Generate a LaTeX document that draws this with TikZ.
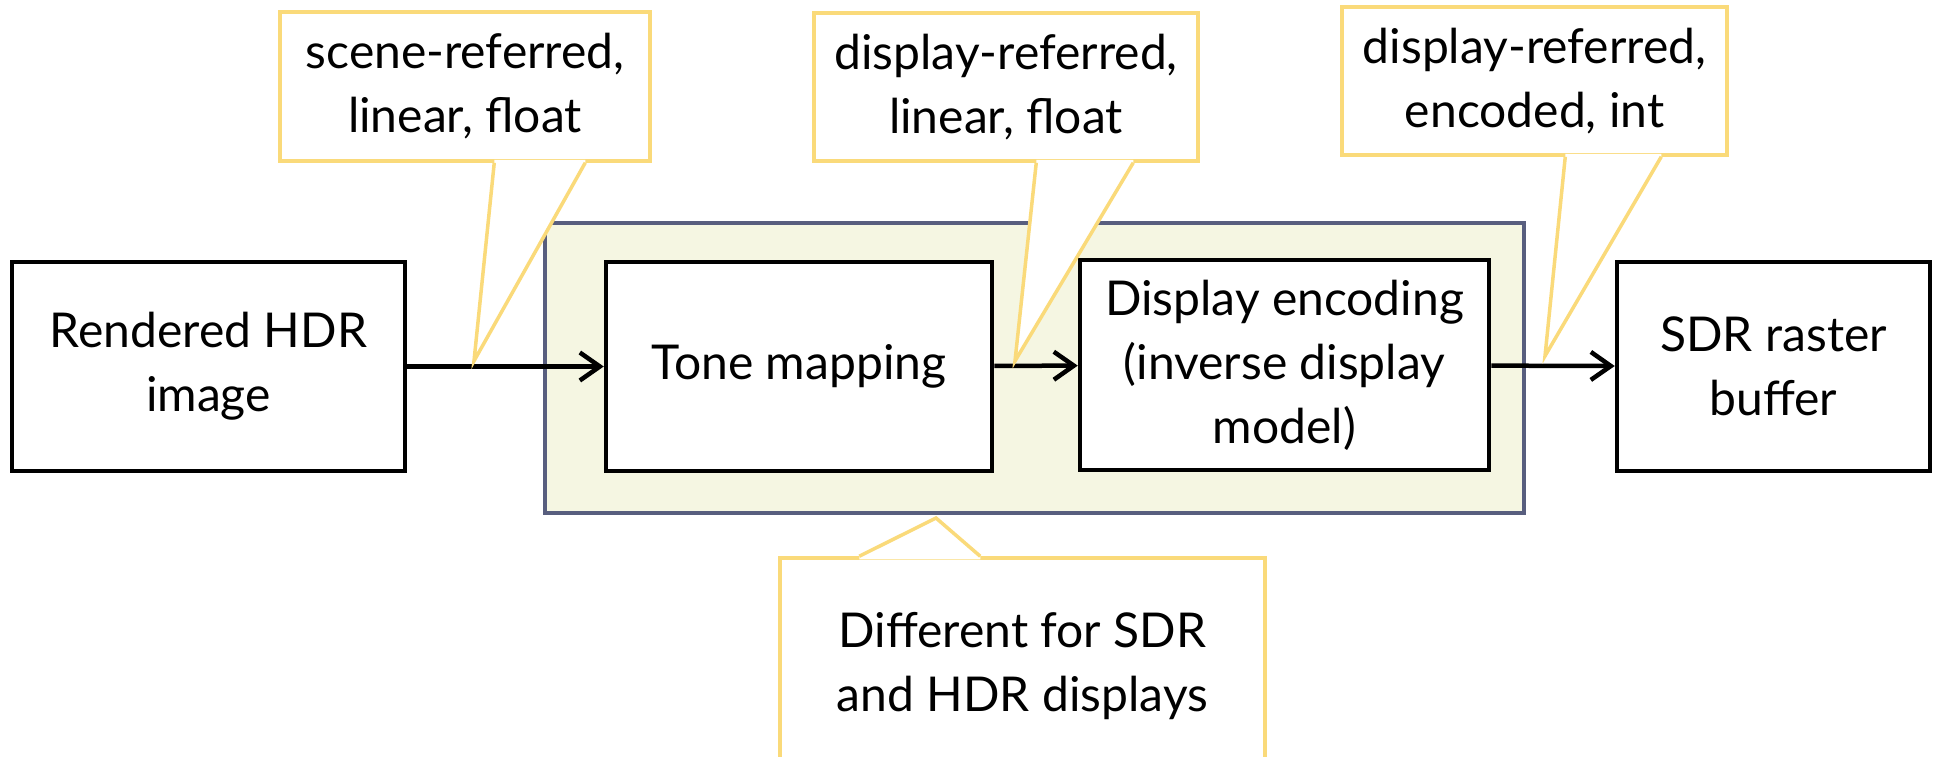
\documentclass[tikz,border=0pt]{standalone}
\usepackage{fontspec}
\setmainfont{Lato}
\usetikzlibrary{arrows.meta,calc}

\definecolor{stagefill}{RGB}{245,246,226}
\definecolor{stageline}{RGB}{88,94,126}
\definecolor{notegold}{RGB}{250,218,122}

\begin{document}
\begin{tikzpicture}[
    x=1pt, y=-1pt,
    font=\fontsize{48}{64}\selectfont,
    block/.style={draw, line width=4.5pt, fill=white, align=center,
      inner sep=0pt, minimum height=209pt},
    stagebox/.style={draw=stageline, fill=stagefill, line width=4pt,
      inner sep=0pt},
    notebox/.style={draw=notegold, fill=white, line width=3.5pt,
      align=center, inner sep=0pt},
    tailline/.style={draw=notegold, line width=3.5pt, line join=miter},
    flow/.style={line width=4.5pt,
      -{Straight Barb[length=20pt, width=28pt]}}
  ]

\useasboundingbox (0,0) rectangle (1934,757);

% ============================================================
% PROCESSING STAGE (shaded)
% ============================================================
\node[stagebox, minimum width=979pt, minimum height=290pt]
  (stage) at (1034.5,368) {};

% ============================================================
% PIPELINE BLOCKS
% ============================================================
\node[block, minimum width=393pt] (hdr)  at (208.5,366.5)
  {Rendered HDR\\image};
\node[block, minimum width=386pt] (tone) at (799,366.5)
  {Tone mapping};
\node[block, minimum width=409pt, minimum height=210pt] (disp) at (1284.5,365)
  {Display encoding\\(inverse display\\model)};
\node[block, minimum width=313pt] (sdr)  at (1773.5,366.5)
  {SDR raster\\buffer};

\draw[flow] (hdr) -- (tone);
\draw[flow] (tone) -- (disp);
\draw[flow] (disp) -- (sdr);

% ============================================================
% CALLOUTS
% ============================================================
% scene-referred
\node[notebox, minimum width=370pt, minimum height=149pt]
  (scene) at (465,86.5) {scene-referred,\\linear, float};
\coordinate (scenetip) at (474,361);
\fill[white]
  ($(scene.south west)+(216,-3)$) -- ($(scene.south west)+(216,0)$)
  -- (scenetip)
  -- ($(scene.south west)+(307,0)$) -- ($(scene.south west)+(307,-3)$) -- cycle;
\draw[tailline]
  ($(scene.south west)+(216,0)$) -- (scenetip) -- ($(scene.south west)+(307,0)$);

% display-referred, linear
\node[notebox, minimum width=384pt, minimum height=148pt]
  (dlin) at (1006,87) {display-referred,\\linear, float};
\coordinate (dlintip) at (1015,361);
\fill[white]
  ($(dlin.south west)+(224,-3)$) -- ($(dlin.south west)+(224,0)$)
  -- (dlintip)
  -- ($(dlin.south west)+(321,0)$) -- ($(dlin.south west)+(321,-3)$) -- cycle;
\draw[tailline]
  ($(dlin.south west)+(224,0)$) -- (dlintip) -- ($(dlin.south west)+(321,0)$);

% display-referred, encoded
\node[notebox, minimum width=385pt, minimum height=148pt]
  (denc) at (1534.5,81) {display-referred,\\encoded, int};
\coordinate (denctip) at (1545,356);
\fill[white]
  ($(denc.south west)+(225,-3)$) -- ($(denc.south west)+(225,0)$)
  -- (denctip)
  -- ($(denc.south west)+(321,0)$) -- ($(denc.south west)+(321,-3)$) -- cycle;
\draw[tailline]
  ($(denc.south west)+(225,0)$) -- (denctip) -- ($(denc.south west)+(321,0)$);

% different for SDR / HDR
\node[notebox, minimum width=485pt, minimum height=217pt]
  (diff) at (1022.5,666.5) {Different for SDR\\and HDR displays};
\coordinate (difftip) at (936,518);
\fill[white]
  ($(diff.north west)+(81,3)$) -- ($(diff.north west)+(81,0)$)
  -- (difftip)
  -- ($(diff.north west)+(202,0)$) -- ($(diff.north west)+(202,3)$) -- cycle;
\draw[tailline]
  ($(diff.north west)+(81,0)$) -- (difftip) -- ($(diff.north west)+(202,0)$);

\end{tikzpicture}
\end{document}
